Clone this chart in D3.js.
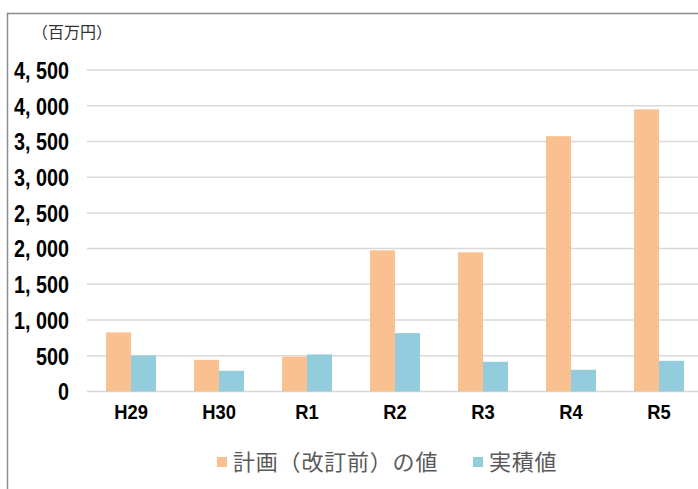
<!DOCTYPE html>
<html>
<head>
<meta charset="utf-8">
<script src="https://cdn.jsdelivr.net/npm/d3@7.9.0/dist/d3.min.js"></script>
<style>
  body { margin: 0; background: #fff; }
  svg { display: block; }
</style>
</head>
<body>
<div id="chart"></div>
<script>
// data
const years = ["H29", "H30", "R1", "R2", "R3", "R4", "R5"];
const planValues = [827, 444, 490, 1976, 1948, 3574, 3949];
const actualValues = [505, 290, 519, 817, 416, 304, 430];
const yTicks = [0, 500, 1000, 1500, 2000, 2500, 3000, 3500, 4000, 4500];
const seriesNames = ["計画（改訂前）の値", "実積値"];
const seriesColors = ["#F9C18F", "#93CDDD"];

var width = 698, height = 489;
var margin = {top: 70, right: -5, bottom: 98, left: 87};

var svg = d3.select("#chart")
    .append("svg")
    .attr("width", width)
    .attr("height", height);

// outer frame (runs off the right and bottom edge)
svg.append("rect")
    .attr("x", 7.5).attr("y", 13.5)
    .attr("width", 720).attr("height", 520)
    .attr("fill", "none")
    .attr("stroke", "#8c8c8c")
    .attr("stroke-width", 1.5);

var x = d3.scaleBand()
    .domain(years)
    .range([margin.left, width - margin.right])
    .paddingInner(0)
    .paddingOuter(0);

var xs = d3.scaleBand()
    .domain([0, 1])
    .range([0, x.bandwidth()])
    .paddingInner(0)
    .paddingOuter(0.76);

var y = d3.scaleLinear()
    .domain([0, 4500])
    .range([391.5, 70]);

// gridlines
svg.append("g")
    .selectAll("line")
    .data(yTicks)
    .enter()
    .append("line")
    .attr("x1", margin.left)
    .attr("x2", width)
    .attr("y1", d => y(d))
    .attr("y2", d => y(d))
    .attr("stroke", "#d9d9d9")
    .attr("stroke-width", 1.5);

// y axis labels (tall, condensed look)
var yAxis = svg.append("g")
    .attr("transform", "translate(69,0)")
    .call(d3.axisLeft(y).tickValues(yTicks).tickSize(0).tickPadding(0)
        .tickFormat(d => d3.format(",")(d).replace(/,/g, ", ")));
yAxis.select(".domain").remove();
yAxis.selectAll("text")
    .attr("font-family", "'Liberation Sans Narrow', 'Liberation Sans', sans-serif")
    .attr("font-weight", "bold")
    .attr("font-size", 23)
    .attr("transform", "scale(0.86,1)")
    .attr("fill", "#000")
    .attr("dy", "0.36em");

// unit label
svg.append("text")
    .attr("x", 32).attr("y", 38)
    .attr("font-family", "'Noto Sans CJK JP', sans-serif")
    .attr("font-size", 16)
    .attr("fill", "#333")
    .text("（百万円）");

// bars
var groups = svg.append("g")
    .selectAll("g")
    .data(years.map((d, i) => ({year: d, vals: [planValues[i], actualValues[i]]})))
    .enter()
    .append("g")
    .attr("transform", d => "translate(" + x(d.year) + ",0)");

groups.selectAll("rect")
    .data(d => d.vals.map((v, k) => ({k: k, v: v})))
    .enter()
    .append("rect")
    .attr("x", d => xs(d.k))
    .attr("y", d => y(d.v))
    .attr("width", xs.bandwidth())
    .attr("height", d => y(0) - y(d.v))
    .attr("fill", d => seriesColors[d.k]);

// x axis labels
var xAxis = svg.append("g")
    .attr("transform", "translate(0," + y(0) + ")")
    .call(d3.axisBottom(x).tickSize(0).tickPadding(13));
xAxis.select(".domain").remove();
xAxis.selectAll("text")
    .attr("font-family", "'Liberation Sans Narrow', 'Liberation Sans', sans-serif")
    .attr("font-weight", "bold")
    .attr("font-size", 20)
    .attr("transform", "scale(0.92,1)")
    .attr("fill", "#000")
    .attr("dy", "0.71em");

// legend
var legendX = [217, 473];
var legend = svg.append("g")
    .selectAll("g")
    .data(seriesNames)
    .enter()
    .append("g")
    .attr("transform", (d, i) => "translate(" + legendX[i] + ",457)");

legend.append("rect")
    .attr("width", 10).attr("height", 10)
    .attr("fill", (d, i) => seriesColors[i]);

legend.append("text")
    .attr("x", 16).attr("y", 5)
    .attr("dy", "0.36em")
    .attr("font-family", "'Noto Sans CJK JP', sans-serif")
    .attr("font-size", 22)
    .attr("letter-spacing", 0.8)
    .attr("fill", "#595959")
    .text(d => d);
</script>
</body>
</html>
